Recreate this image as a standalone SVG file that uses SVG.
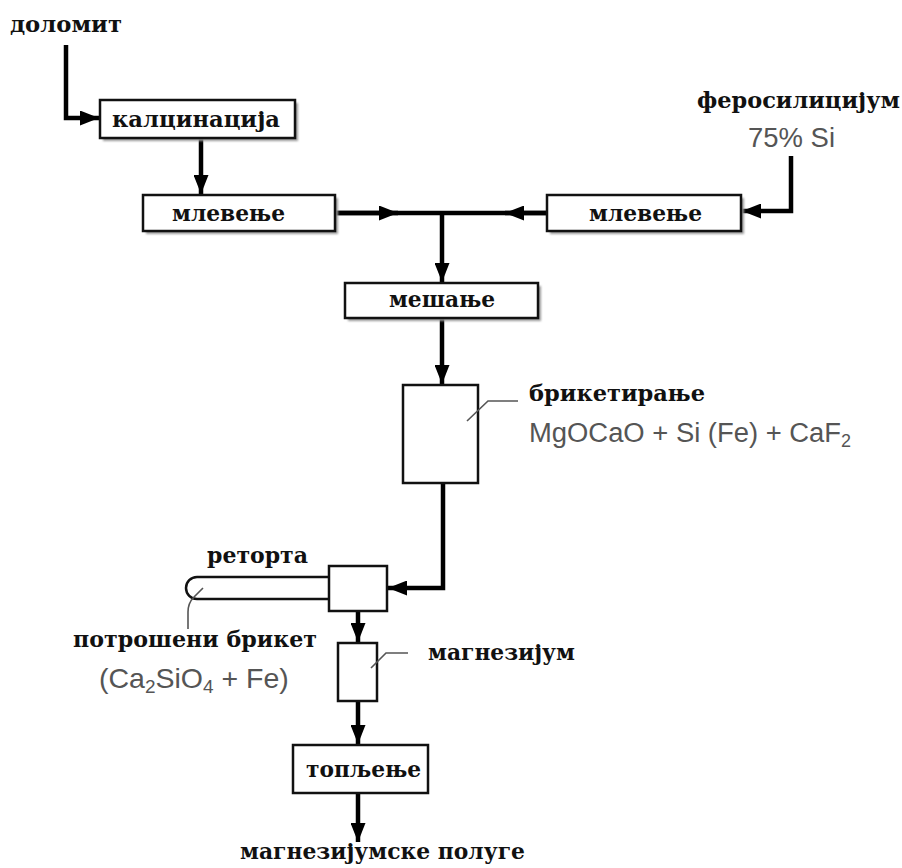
<svg xmlns="http://www.w3.org/2000/svg" width="902" height="868" viewBox="0 0 902 868">
<style>
.lbl{font-family:"DejaVu Serif","Liberation Serif",serif;font-weight:bold;font-size:22.5px;fill:#111}
.chem{font-family:"Liberation Sans",Arial,sans-serif;font-size:27px;fill:#555}
.box{fill:#fff;stroke:#111;stroke-width:2.5}
.shd{fill:#9a9a9a;filter:url(#blur)}
.conn{fill:none;stroke:#000;stroke-width:4.5}
.lead{fill:none;stroke:#555;stroke-width:1.6}
.tube{fill:none;stroke:#111;stroke-width:2.5}
</style>
<defs>
<filter id="blur" x="-10%" y="-20%" width="120%" height="140%"><feGaussianBlur stdDeviation="1.2"/></filter>
<marker id="ah" markerUnits="userSpaceOnUse" markerWidth="20" markerHeight="15" refX="19" refY="7.5" orient="auto" viewBox="0 0 20 15">
<path d="M0,0 L19,7.5 L0,15 z" fill="#000"/>
</marker>
</defs>
<rect width="902" height="868" fill="#fff"/>

<g id="connectors">
<path class="conn" d="M66,45 V118 H99" marker-end="url(#ah)"/>
<path class="conn" d="M201,138 V194" marker-end="url(#ah)"/>
<path class="conn" d="M335,213 H547"/>
<path class="conn" d="M335,213 H398" marker-end="url(#ah)"/>
<path class="conn" d="M547,213 H505" marker-end="url(#ah)"/>
<path class="conn" d="M442,213 V282" marker-end="url(#ah)"/>
<path class="conn" d="M791,156 V211 H742" marker-end="url(#ah)"/>
<path class="conn" d="M442,318 V384" marker-end="url(#ah)"/>
<path class="conn" d="M443,483 V588 H388" marker-end="url(#ah)"/>
<path class="conn" d="M358,611 V642" marker-end="url(#ah)"/>
<path class="conn" d="M358,701 V744" marker-end="url(#ah)"/>
<path class="conn" d="M358,793 V842" marker-end="url(#ah)"/>
</g>

<g id="dolomit">
<text class="lbl" x="10" y="32" textLength="112" lengthAdjust="spacingAndGlyphs">доломит</text>
</g>

<g id="kalcinacija">
<rect class="shd" x="103" y="103" width="195" height="38"/>
<rect class="box" x="100" y="100" width="195" height="38"/>
<text class="lbl" x="112" y="127" textLength="168" lengthAdjust="spacingAndGlyphs">калцинација</text>
</g>

<g id="mlevenje1">
<rect class="shd" x="146" y="198" width="192" height="36"/>
<rect class="box" x="143" y="195" width="192" height="36"/>
<text class="lbl" x="172" y="221" textLength="113" lengthAdjust="spacingAndGlyphs">млевење</text>
</g>

<g id="ferosilicijum">
<text class="lbl" x="697" y="108" textLength="203" lengthAdjust="spacingAndGlyphs">феросилицијум</text>
<text class="chem" x="748" y="147" textLength="87" lengthAdjust="spacingAndGlyphs">75% Si</text>
</g>

<g id="mlevenje2">
<rect class="shd" x="550" y="198" width="194" height="36"/>
<rect class="box" x="547" y="195" width="194" height="36"/>
<text class="lbl" x="589" y="221" textLength="113" lengthAdjust="spacingAndGlyphs">млевење</text>
</g>

<g id="mesanje">
<rect class="shd" x="348" y="286" width="193" height="35"/>
<rect class="box" x="345" y="283" width="193" height="35"/>
<text class="lbl" x="389" y="307" textLength="106" lengthAdjust="spacingAndGlyphs">мешање</text>
</g>

<g id="briketiranje">
<rect class="box" x="403" y="385" width="75" height="98"/>
<path class="lead" d="M467,421 L488,401 H518"/>
<text class="lbl" x="529" y="401" textLength="176" lengthAdjust="spacingAndGlyphs">брикетирање</text>
<text class="chem" x="529" y="442"><tspan textLength="312" lengthAdjust="spacingAndGlyphs">MgOCaO + Si (Fe) + CaF</tspan><tspan style="font-size:18px" dy="5">2</tspan></text>
</g>

<g id="retorta">
<path class="tube" d="M330,577 H197 A11,11 0 0 0 197,599 H330"/>
<rect class="box" x="329" y="566" width="58" height="45"/>
<path class="lead" d="M203,588 L194,597 Q188,603 188,612 V629"/>
<text class="lbl" x="207" y="563" textLength="101" lengthAdjust="spacingAndGlyphs">реторта</text>
</g>

<g id="potroseni">
<text class="lbl" x="73" y="647" textLength="244" lengthAdjust="spacingAndGlyphs">потрошени брикет</text>
<text class="chem" x="99" y="688" style="font-size:28.5px">(Ca<tspan style="font-size:19px" dy="5">2</tspan><tspan dy="-5">SiO</tspan><tspan style="font-size:19px" dy="5">4</tspan><tspan dy="-5"> + Fe)</tspan></text>
</g>

<g id="magnezijum">
<rect class="box" x="338" y="643" width="39" height="58"/>
<path class="lead" d="M371,668 L386,653 H408"/>
<text class="lbl" x="428" y="660" textLength="147" lengthAdjust="spacingAndGlyphs">магнезијум</text>
</g>

<g id="topljenje">
<rect class="box" x="293" y="745" width="135" height="48"/>
<text class="lbl" x="306" y="777" textLength="115" lengthAdjust="spacingAndGlyphs">топљење</text>
</g>

<g id="poluge">
<text class="lbl" x="240" y="859" textLength="285" lengthAdjust="spacingAndGlyphs">магнезијумске полуге</text>
</g>
</svg>
